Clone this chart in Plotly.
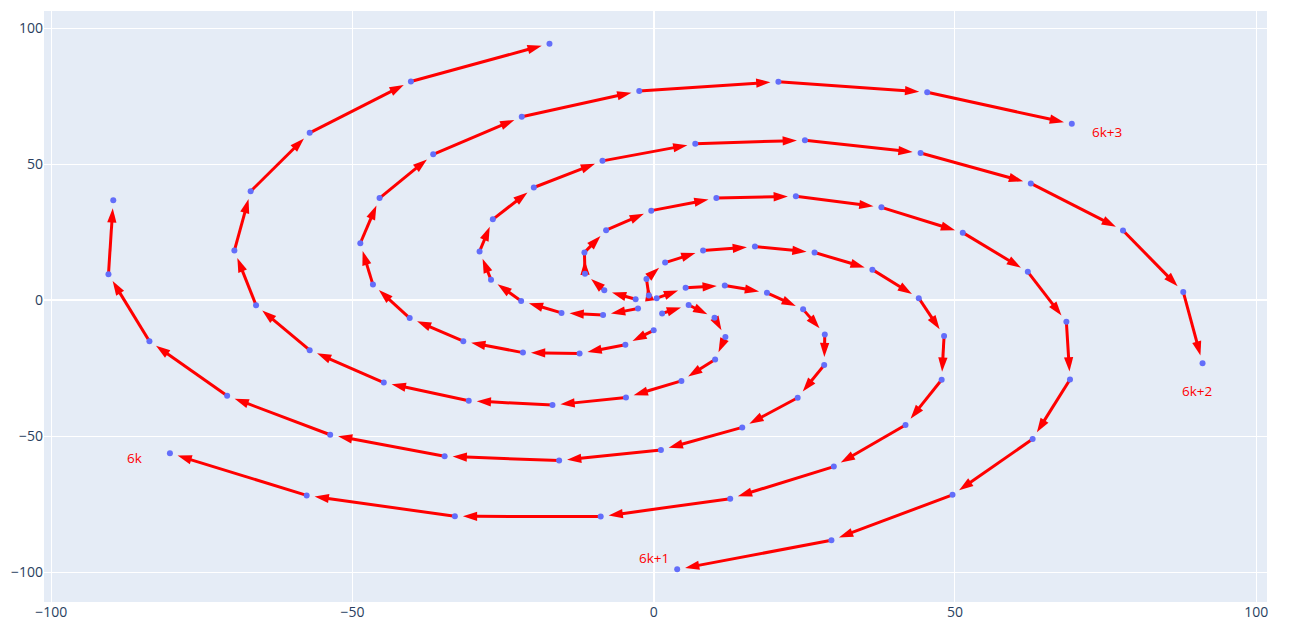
import plotly.graph_objects as go

# point labels (integers 1..99) and their positions
n_vals = list(range(1, 100))
x_vals = [0.5,-0.8,-3.0,-2.6,1.4,5.8,5.3,-1.2,-8.2,-8.4,0.0,10.1,11.8,1.9,-11.4,-15.3,-4.7,11.9,18.8,8.2,
          -11.5,-22.0,-12.3,10.2,24.8,16.8,-7.9,-27.0,-21.7,4.6,28.4,26.7,-0.4,-28.9,-31.6,-4.6,28.3,36.3,10.4,-26.7,
          -40.5,-16.8,23.9,44.0,23.6,-19.9,-46.6,-30.7,14.7,48.2,37.8,-8.5,-48.7,-44.8,1.2,47.8,51.3,6.9,-45.5,-57.1,
          -15.7,41.8,62.1,25.1,-36.6,-66.0,-34.7,29.9,68.5,44.3,-21.9,-69.6,-53.7,12.7,69.1,62.6,-2.4,-66.9,-70.8,-8.8,
          62.9,77.9,20.7,-57.1,-83.7,-33.0,49.6,87.9,45.4,-40.3,-90.5,-57.6,29.5,91.1,69.4,-17.3,-89.7,-80.3,3.9]
y_vals = [0.8,1.8,0.4,-3.0,-4.8,-1.7,4.6,7.9,3.7,-5.4,-11.0,-6.4,5.5,13.9,9.8,-4.6,-16.3,-13.5,2.8,18.3,
          17.6,-0.2,-19.5,-21.7,-3.3,19.8,25.8,7.6,-19.2,-29.6,-12.5,17.6,33.0,18.0,-15.0,-35.7,-23.8,11.3,37.6,29.8,
          -6.5,-38.5,-35.8,0.8,38.3,41.5,5.8,-36.9,-46.7,-13.1,34.2,51.3,21.0,-30.2,-55.0,-29.2,24.9,57.6,37.6,-18.3,
          -58.9,-45.8,10.5,58.9,53.7,-1.8,-57.3,-61.1,-7.9,54.2,67.5,18.3,-49.4,-72.9,-29.1,43.0,77.0,40.1,-35.1,-79.5,
          -51.0,25.7,80.4,61.6,-15.0,-79.4,-71.5,3.1,76.5,80.5,9.6,-71.7,-88.2,-23.1,64.9,94.4,36.8,-56.2,-98.9]

# spiral arms (sequences of point labels joined by arrows)
arm_a = [1, 7, 13, 19, 25, 31, 37, 43, 49, 55, 61, 67, 73, 79, 85, 91, 97]
arm_b = [2, 8, 14, 20, 26, 32, 38, 44, 50, 56, 62, 68, 74, 80, 86, 92, 98]
arm_c = [3, 9, 15, 21, 27, 33, 39, 45, 51, 57, 63, 69, 75, 81, 87, 93, 99]
arm_d = [4, 10, 16, 22, 28, 34, 40, 46, 52, 58, 64, 70, 76, 82, 88, 94]
arm_e = [11, 17, 23, 29, 35, 41, 47, 53, 59, 65, 71, 77, 83, 89, 95]
arm_f = [5, 6, 12, 18, 24, 30, 36, 42, 48, 54, 60, 66, 72, 78, 84, 90, 96]

label_text = ["6k+3", "6k+2", "6k+1", "6k"]
label_x = [75.3, 90.2, 0.0, -86.1]
label_y = [62.0, -33.5, -94.7, -57.9]

pos = {k: (a, b) for k, a, b in zip(n_vals, x_vals, y_vals)}

fig = go.Figure()
for arm in [arm_a, arm_b, arm_c, arm_d, arm_e, arm_f]:
    fig.add_trace(go.Scatter(
        x=[pos[k][0] for k in arm], y=[pos[k][1] for k in arm], mode="lines+markers",
        line=dict(color="red", width=3),
        marker=dict(symbol="arrow", size=15, angleref="previous", standoff=8, color="red"),
        showlegend=False, hoverinfo="skip"))
fig.add_trace(go.Scatter(x=x_vals, y=y_vals, mode="markers", text=n_vals,
                         marker=dict(color="#636efa", size=6), showlegend=False))

for t, a, b in zip(label_text, label_x, label_y):
    fig.add_annotation(x=a, y=b, text=t, showarrow=False, font=dict(color="red", size=13.5))

fig.update_layout(width=1293, height=628, margin=dict(l=31, r=34, t=3, b=34),
                  font=dict(size=14),
                  xaxis=dict(range=[-101.2, 101.8]), yaxis=dict(range=[-110.9, 106.4]))
fig.write_html("out.html")
